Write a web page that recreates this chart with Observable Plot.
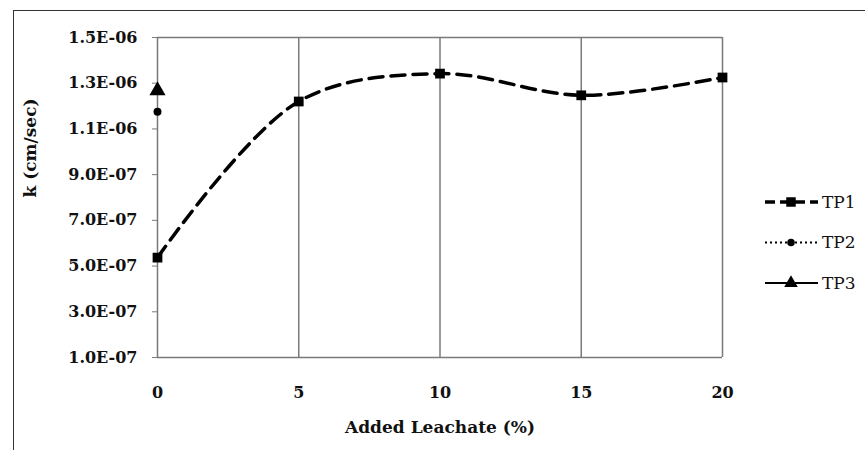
<!DOCTYPE html>
<html>
<head>
<meta charset="utf-8">
<script src="https://cdn.jsdelivr.net/npm/d3@7"></script>
<script src="https://cdn.jsdelivr.net/npm/@observablehq/plot@0.6"></script>
<style>
  body { margin: 0; background: #fff; }
  #wrap { position: relative; width: 865px; height: 450px; overflow: hidden; background: #fff; }
  #frame { position: absolute; left: 13px; top: 10px; width: 900px; height: 500px; border-left: 1.5px solid #333; border-top: 1.5px solid #333; box-sizing: border-box; }
  #chart { position: absolute; left: 0; top: 0; }
  #legend { position: absolute; left: 0; top: 0; }
</style>
</head>
<body>
<div id="wrap"><div id="frame"></div><div id="chart"></div><svg id="legend" width="865" height="450"></svg></div>
<script>
// Data
const leachate = [0, 5, 10, 15, 20];
const tp1 = [5.37e-7, 1.22e-6, 1.342e-6, 1.247e-6, 1.325e-6];
const tp2x = [0];
const tp2 = [1.175e-6];
const tp3x = [0];
const tp3 = [1.268e-6];
const yTicks = [1e-7, 3e-7, 5e-7, 7e-7, 9e-7, 1.1e-6, 1.3e-6, 1.5e-6];
const xTicks = [0, 5, 10, 15, 20];
const seriesNames = ["TP1", "TP2", "TP3"];

const d1 = leachate.map((x, i) => ({x, y: tp1[i]}));
const d2 = tp2x.map((x, i) => ({x, y: tp2[i]}));
const d3d = tp3x.map((x, i) => ({x, y: tp3[i]}));

const fmtE = v => {
  const [m, e] = v.toExponential(1).split("e");
  const n = +e;
  return m + "E" + (n < 0 ? "-" : "+") + String(Math.abs(n)).padStart(2, "0");
};

const serif = "'DejaVu Serif', serif";
const grid = "#7a7a7a";

const plot = Plot.plot({
  width: 865,
  height: 450,
  marginLeft: 157,
  marginRight: 143,
  marginTop: 37,
  marginBottom: 93,
  style: {fontFamily: serif, fontSize: "16px", color: "#111", background: "transparent"},
  x: {domain: [0, 20], ticks: xTicks},
  y: {domain: [1e-7, 1.5e-6], ticks: yTicks},
  marks: [
    Plot.ruleX(xTicks, {stroke: grid, strokeWidth: 1.5}),
    Plot.ruleY([1e-7, 1.5e-6], {stroke: grid, strokeWidth: 1.5}),
    Plot.axisY({ticks: yTicks, tickFormat: fmtE, tickSize: 5, tickPadding: 15, stroke: grid, fontWeight: "bold", fontSize: 16, label: null}),
    Plot.axisX({ticks: xTicks, tickSize: 0, tickPadding: 29, fontWeight: "bold", fontSize: 16, label: null}),
    Plot.text(["k (cm/sec)"], {frameAnchor: "left", dx: -127, rotate: -90, fontWeight: "bold", fontSize: 17}),
    Plot.text(["Added Leachate (%)"], {frameAnchor: "bottom", dy: 75, fontWeight: "bold", fontSize: 17}),
    Plot.line(d1, {x: "x", y: "y", curve: "catmull-rom", stroke: "#000", strokeWidth: 3.5, strokeDasharray: "14,8"}),
    Plot.dot(d1, {x: "x", y: "y", symbol: "square", r: 5.5, fill: "#000"}),
    Plot.dot(d2, {x: "x", y: "y", symbol: "circle", r: 4, fill: "#000"}),
    Plot.dot(d3d, {x: "x", y: "y", symbol: "triangle", r: 6, fill: "#000"})
  ]
});
document.getElementById("chart").appendChild(plot);

// Legend
const lg = d3.select("#legend");
const styles = [
  {dash: "10,5", w: 3.5, sym: d3.symbolSquare, size: 90},
  {dash: "2,3", w: 2, sym: d3.symbolCircle, size: 45},
  {dash: null, w: 2, sym: d3.symbolTriangle, size: 80}
];
seriesNames.forEach((name, i) => {
  const y = 202 + i * 40.5;
  const s = styles[i];
  const g = lg.append("g");
  const l = g.append("line").attr("x1", 765).attr("x2", 818).attr("y1", y).attr("y2", y)
    .attr("stroke", "#000").attr("stroke-width", s.w);
  if (s.dash) l.attr("stroke-dasharray", s.dash);
  g.append("path").attr("d", d3.symbol(s.sym, s.size)()).attr("transform", `translate(791,${y})`).attr("fill", "#000");
  g.append("text").attr("x", 822).attr("y", y).attr("dy", "0.35em").attr("font-family", serif)
    .attr("font-size", 17).attr("fill", "#111").text(name);
});
</script>
</body>
</html>
